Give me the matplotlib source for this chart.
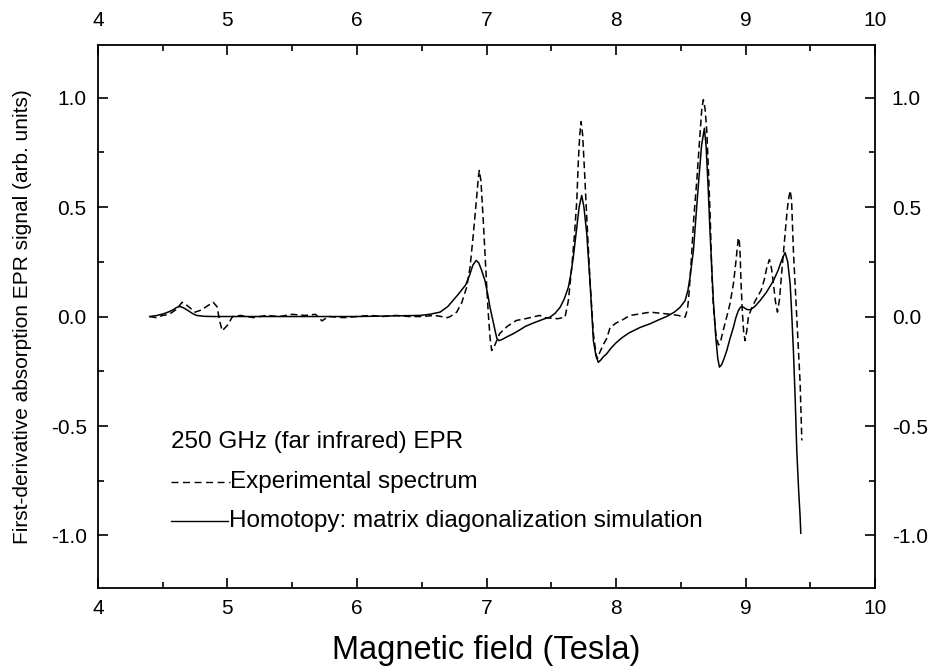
import numpy as np
import matplotlib
matplotlib.use('Agg')
import matplotlib.pyplot as plt
from matplotlib.ticker import MultipleLocator, FormatStrFormatter
from matplotlib.transforms import ScaledTranslation

plt.rcParams['font.family'] = ['Liberation Sans', 'DejaVu Sans']
plt.rcParams['axes.unicode_minus'] = False

# experimental spectrum (dashed)
exp_field = [4.40, 4.45, 4.50, 4.55, 4.60, 4.63, 4.65, 4.68, 4.72, 4.75, 4.80, 4.85, 4.89,
             4.92, 4.94, 4.96, 5.00, 5.04, 5.10, 5.20, 5.30, 5.40, 5.50, 5.60, 5.68, 5.73,
             5.78, 5.90, 6.00, 6.10, 6.20, 6.30, 6.40, 6.50, 6.60, 6.70, 6.72, 6.77, 6.81,
             6.847, 6.873, 6.896, 6.924, 6.937, 6.944, 6.957, 6.975, 6.988, 7.002, 7.014,
             7.027, 7.04, 7.058, 7.10, 7.16, 7.23, 7.30, 7.41, 7.45, 7.55, 7.606, 7.632,
             7.658, 7.68, 7.697, 7.709, 7.72, 7.73, 7.742, 7.755, 7.774, 7.80, 7.825, 7.845,
             7.856, 7.87, 7.90, 7.928, 7.954, 8.0, 8.05, 8.108, 8.185, 8.263, 8.391, 8.48,
             8.533, 8.55, 8.56, 8.572, 8.585, 8.60, 8.623, 8.637, 8.649, 8.662, 8.674, 8.687,
             8.70, 8.713, 8.726, 8.739, 8.751, 8.77, 8.79, 8.805, 8.82, 8.855, 8.88, 8.906,
             8.925, 8.944, 8.952, 8.958, 8.965, 8.975, 8.985, 8.996, 9.008, 9.022, 9.048,
             9.073, 9.12, 9.145, 9.164, 9.184, 9.20, 9.215, 9.23, 9.246, 9.262, 9.28, 9.295,
             9.305, 9.32, 9.33, 9.344, 9.355, 9.369, 9.382, 9.395, 9.408, 9.421, 9.434]
exp_signal = [0.0, -0.005, 0.005, 0.01, 0.03, 0.05, 0.065, 0.055, 0.035, 0.02, 0.03, 0.05, 0.065,
              0.045, -0.02, -0.065, -0.04, 0.0, 0.005, -0.005, 0.005, 0.0, 0.01, 0.005, 0.01, -0.02,
              0.0, -0.005, 0.0, 0.005, 0.0, 0.005, 0.0, 0.0, 0.005, -0.005, 0.0, 0.02, 0.065,
              0.134, 0.225, 0.362, 0.545, 0.636, 0.667, 0.62, 0.438, 0.287, 0.134, 0.012,
              -0.095, -0.155, -0.14, -0.079, -0.045, -0.018, -0.01, 0.005, -0.005, -0.01, -0.003, 0.073,
              0.225, 0.38, 0.53, 0.712, 0.83, 0.89, 0.83, 0.682, 0.453, 0.151, -0.078, -0.17,
              -0.193, -0.17, -0.13, -0.1, -0.05, -0.03, -0.015, 0.005, 0.012, 0.02, 0.012, 0.005,
              -0.003, 0.03, 0.08, 0.18, 0.30, 0.45, 0.62, 0.74, 0.85, 0.95, 0.99, 0.95,
              0.85, 0.67, 0.47, 0.2, 0.05, -0.08, -0.13, -0.12, -0.08, 0.0, 0.06, 0.15,
              0.25, 0.36, 0.34, 0.28, 0.15, 0.02, -0.07, -0.11, -0.07, 0.0, 0.04,
              0.07, 0.12, 0.17, 0.225, 0.26, 0.22, 0.15, 0.07, 0.02, 0.08, 0.21, 0.31,
              0.38, 0.48, 0.53, 0.575, 0.53, 0.30, 0.15, 0.0, -0.15, -0.306, -0.566]

# matrix diagonalization simulation (solid)
sim_field = [4.40, 4.45, 4.504, 4.55, 4.581, 4.61, 4.633, 4.66, 4.697, 4.73, 4.762, 4.82,
             4.89, 5.5, 6.0, 6.486, 6.56, 6.641, 6.70, 6.741, 6.78, 6.80, 6.82, 6.84, 6.87,
             6.895, 6.92, 6.94, 6.96, 6.988, 7.01, 7.027, 7.05, 7.066, 7.08, 7.095, 7.12,
             7.16, 7.205, 7.26, 7.30, 7.36, 7.413, 7.45, 7.49, 7.53, 7.568, 7.60, 7.632,
             7.65, 7.67, 7.697, 7.715, 7.735, 7.752, 7.774, 7.80, 7.825, 7.845, 7.863,
             7.88, 7.90, 7.928, 7.96, 8.0, 8.05, 8.10, 8.185, 8.263, 8.33, 8.39, 8.45,
             8.494, 8.533, 8.555, 8.571, 8.597, 8.616, 8.636, 8.66, 8.682, 8.695, 8.71,
             8.726, 8.751, 8.772, 8.785, 8.798, 8.815, 8.835, 8.855, 8.88, 8.906, 8.925,
             8.944, 8.96, 8.971, 8.99, 9.01, 9.035, 9.07, 9.112, 9.16, 9.215, 9.25, 9.28,
             9.305, 9.325, 9.344, 9.357, 9.369, 9.383, 9.395, 9.41, 9.421, 9.426]
sim_signal = [0.0, 0.004, 0.012, 0.022, 0.031, 0.042, 0.046, 0.04, 0.027, 0.014, 0.005, 0.001,
              0.0, 0.0, 0.0, 0.005, 0.01, 0.02, 0.045, 0.073, 0.10, 0.115, 0.13, 0.145, 0.19,
              0.235, 0.256, 0.245, 0.215, 0.164, 0.1, 0.042, -0.02, -0.064, -0.1, -0.11, -0.105,
              -0.092, -0.079, -0.06, -0.045, -0.03, -0.018, -0.01, -0.003, 0.015, 0.042, 0.08, 0.134,
              0.19, 0.271, 0.408, 0.5, 0.553, 0.5, 0.378, 0.149, -0.11, -0.18, -0.209,
              -0.2, -0.185, -0.17, -0.145, -0.12, -0.095, -0.075, -0.05, -0.033, -0.015, 0.0, 0.02,
              0.042, 0.073, 0.12, 0.18, 0.30, 0.45, 0.606, 0.78, 0.86, 0.78, 0.6,
              0.378, 0.073, -0.11, -0.19, -0.231, -0.22, -0.19, -0.155, -0.1, -0.049, -0.005,
              0.027, 0.042, 0.046, 0.04, 0.032, 0.031, 0.045, 0.073, 0.11, 0.164, 0.21, 0.26,
              0.292, 0.25, 0.149, 0.0, -0.155, -0.38, -0.612, -0.8, -0.916, -0.99]

fig = plt.figure(figsize=(9.32, 6.67), dpi=100)
ax = fig.add_axes([0.105, 0.1184, 0.834, 0.8141])

ax.plot(exp_field, exp_signal, color='black', lw=1.1, linestyle=(0, (4.5, 2.5)))
ax.plot(sim_field, sim_signal, color='black', lw=1.1)

ax.set_xlim(4, 10)
ax.set_ylim(-1.24, 1.24)
ax.xaxis.set_major_locator(MultipleLocator(1))
ax.xaxis.set_minor_locator(MultipleLocator(0.5))
ax.yaxis.set_major_locator(MultipleLocator(0.5))
ax.yaxis.set_minor_locator(MultipleLocator(0.25))
ax.yaxis.set_major_formatter(FormatStrFormatter('%.1f'))
ax.tick_params(which='both', direction='in', top=True, right=True,
               labeltop=True, labelright=True, labelsize=15, width=1.2)
ax.tick_params(which='major', length=7, pad=8)
ax.tick_params(which='minor', length=4)
for s in ax.spines.values():
    s.set_linewidth(1.3)

# top and right labels sit a little further from the frame
up = ScaledTranslation(0, 3 / 72, fig.dpi_scale_trans)
over = ScaledTranslation(4 / 72, 0, fig.dpi_scale_trans)
for t in ax.xaxis.get_major_ticks():
    t.label2.set_transform(t.label2.get_transform() + up)
for t in ax.yaxis.get_major_ticks():
    t.label2.set_transform(t.label2.get_transform() + over)

ax.set_xlabel('Magnetic field (Tesla)', fontsize=23.5, labelpad=12)
ax.set_ylabel('First-derivative absorption EPR signal (arb. units)', fontsize=15)
ax.yaxis.set_label_coords(-0.085, 0.5)

# hand-made legend
ax.text(0.0936, 0.2689, '250 GHz (far infrared) EPR', transform=ax.transAxes,
        fontsize=17.5, va='center', ha='left')
ax.plot([0.0936, 0.170], [0.1952, 0.1952], transform=ax.transAxes, color='black',
        lw=1.0, linestyle=(0, (5, 3.3)))
ax.text(0.1705, 0.1952, 'Experimental spectrum', transform=ax.transAxes,
        fontsize=17.5, va='center', ha='left')
ax.plot([0.0936, 0.1673], [0.1234, 0.1234], transform=ax.transAxes, color='black', lw=1.0)
ax.text(0.1686, 0.1234, 'Homotopy: matrix diagonalization simulation', transform=ax.transAxes,
        fontsize=17.5, va='center', ha='left')

fig.savefig('out.png', dpi=100)
